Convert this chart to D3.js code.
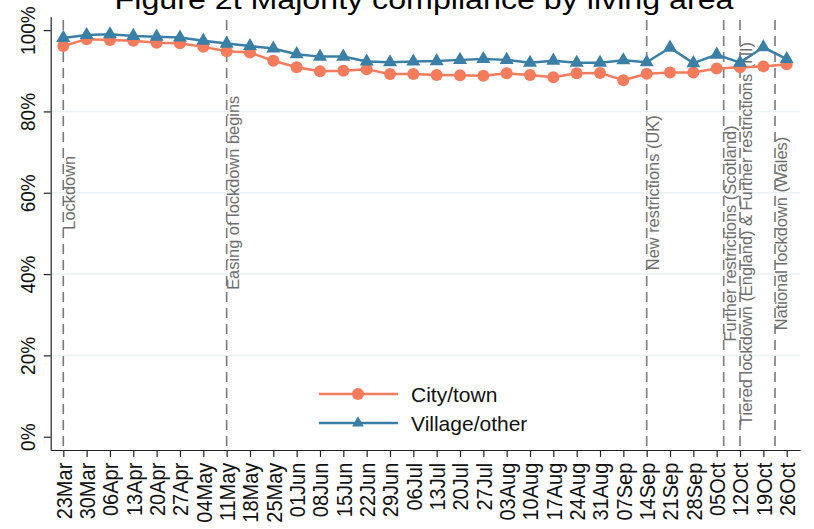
<!DOCTYPE html>
<html>
<head>
<meta charset="utf-8">
<script src="https://cdn.jsdelivr.net/npm/d3@7"></script>
<style>
  body { margin: 0; background: #fff; }
  svg { display: block; font-family: Arial, "Liberation Sans", sans-serif; }
</style>
</head>
<body>
<svg width="814" height="529"></svg>
<script>
// weekly survey dates
const weeks = ['23Mar','30Mar','06Apr','13Apr','20Apr','27Apr','04May','11May','18May','25May',
  '01Jun','08Jun','15Jun','22Jun','29Jun','06Jul','13Jul','20Jul','27Jul','03Aug','10Aug',
  '17Aug','24Aug','31Aug','07Sep','14Sep','21Sep','28Sep','05Oct','12Oct','19Oct','26Oct'];

const cityTown = [96.1, 97.8, 97.6, 97.4, 96.9, 96.8, 95.9, 94.8, 94.5, 92.5, 90.9, 89.9, 90.0, 90.4,
  89.2, 89.2, 89.0, 88.9, 88.8, 89.4, 89.0, 88.4, 89.4, 89.5, 87.7, 89.3, 89.6, 89.6, 90.6, 90.9, 91.1, 91.6];

const villageOther = [98.1, 98.8, 99.0, 98.6, 98.4, 98.2, 97.4, 96.7, 96.1, 95.5, 94.1, 93.5, 93.5, 92.3,
  92.1, 92.3, 92.4, 92.7, 92.9, 92.7, 92.0, 92.5, 92.0, 92.0, 92.6, 92.1, 95.7, 91.9, 94.0, 92.0, 95.8, 92.9];

const yTicks = [0, 20, 40, 60, 80, 100];

// policy events: week position (index), label, label centre (%)
const eventPos = [0, 7, 25, 28.3, 29, 30.5];
const eventText = ['Lockdown', 'Easing of lockdown begins', 'New restrictions (UK)',
  'Further restrictions (Scotland)', 'Tiered lockdown (England) & Further restrictions (NI)',
  'National lockdown (Wales)'];
const eventLabelY = [60, 60, 60, 50, 50, 50];

const orange = '#f47b5c';
const blue = '#3a7fa5';

const svg = d3.select('svg');

const x = d3.scaleLinear().domain([-0.54, 31.57]).range([50.7, 800]);
const y = d3.scaleLinear().domain([0, 100]).range([436.7, 30.2]);
const yAxisScale = d3.scaleLinear().domain([-3.27, 103.3]).range([450, 16.7]);

// title (partly cut off at the top, as in the source figure)
svg.append('text')
  .attr('transform', 'translate(424, 9) scale(1.15, 1)')
  .attr('text-anchor', 'middle')
  .attr('font-size', 28)
  .attr('fill', '#000')
  .text('Figure 2t Majority compliance by living area');

// gridlines
svg.append('g')
  .selectAll('line')
  .data(yTicks.filter(d => d > 0 && d < 100))
  .join('line')
  .attr('x1', 51).attr('x2', 800)
  .attr('y1', d => y(d)).attr('y2', d => y(d))
  .attr('stroke', '#eaf2f3')
  .attr('stroke-width', 1.5);

// y axis
const yAxis = svg.append('g')
  .attr('transform', 'translate(50.7, 0)')
  .call(d3.axisLeft(yAxisScale).tickValues(yTicks).tickSize(7).tickSizeOuter(0)
    .tickFormat(d => d + '%'));
yAxis.select('.domain').attr('stroke', '#222').attr('stroke-width', 1.2);
yAxis.selectAll('.tick line').attr('stroke', '#222').attr('stroke-width', 1.2);
yAxis.selectAll('.tick text')
  .attr('x', 0).attr('y', -14.5).attr('dy', null)
  .attr('text-anchor', 'middle')
  .attr('transform', 'rotate(-90) scale(1, 1.05)')
  .attr('font-size', 19)
  .attr('fill', '#111');

// x axis
const xAxis = svg.append('g')
  .attr('transform', 'translate(0, 450)')
  .call(d3.axisBottom(x).tickValues(d3.range(weeks.length)).tickSize(7).tickSizeOuter(0)
    .tickFormat(i => weeks[i]));
xAxis.select('.domain').attr('stroke', '#222').attr('stroke-width', 1.2);
xAxis.selectAll('.tick line').attr('stroke', '#222').attr('stroke-width', 1.2);
xAxis.selectAll('.tick text')
  .attr('x', -12.7).attr('y', 0).attr('dy', '0.36em')
  .attr('text-anchor', 'end')
  .attr('transform', 'rotate(-90) scale(1, 1.1)')
  .attr('font-size', 20)
  .attr('fill', '#111');

// event lines + labels
const events = svg.append('g')
  .selectAll('g')
  .data(eventPos)
  .join('g');

events.append('line')
  .attr('x1', d => x(d)).attr('x2', d => x(d))
  .attr('y1', 20).attr('y2', 450)
  .attr('stroke', '#7a7a7a')
  .attr('stroke-width', 1.6)
  .attr('stroke-dasharray', '10,6');

events.append('text')
  .attr('transform', (d, i) => `translate(${x(d) + 12}, ${y(eventLabelY[i])}) rotate(-90)`)
  .attr('text-anchor', 'middle')
  .attr('font-size', 16.4)
  .attr('fill', '#6e6e6e')
  .text((d, i) => eventText[i]);

// series
const line = d3.line().x((d, i) => x(i)).y(d => y(d));

svg.append('path')
  .datum(cityTown)
  .attr('d', line)
  .attr('fill', 'none')
  .attr('stroke', orange)
  .attr('stroke-width', 2.5);

svg.append('g')
  .selectAll('circle')
  .data(cityTown)
  .join('circle')
  .attr('cx', (d, i) => x(i))
  .attr('cy', d => y(d))
  .attr('r', 6)
  .attr('fill', orange);

svg.append('path')
  .datum(villageOther)
  .attr('d', line)
  .attr('fill', 'none')
  .attr('stroke', blue)
  .attr('stroke-width', 2.5);

const tri = d3.symbol().type(d3.symbolTriangle).size(85);
svg.append('g')
  .selectAll('path')
  .data(villageOther)
  .join('path')
  .attr('d', tri)
  .attr('transform', (d, i) => `translate(${x(i)}, ${y(d)})`)
  .attr('fill', blue);

// legend
const legend = svg.append('g');
const legendItems = [
  { name: 'City/town', color: orange, marker: 'circle', ly: 394 },
  { name: 'Village/other', color: blue, marker: 'triangle', ly: 423 }
];
legendItems.forEach(item => {
  legend.append('line')
    .attr('x1', 319).attr('x2', 398)
    .attr('y1', item.ly).attr('y2', item.ly)
    .attr('stroke', item.color)
    .attr('stroke-width', 2.5);
  if (item.marker === 'circle') {
    legend.append('circle')
      .attr('cx', 358).attr('cy', item.ly).attr('r', 6)
      .attr('fill', item.color);
  } else {
    legend.append('path')
      .attr('d', d3.symbol().type(d3.symbolTriangle).size(60))
      .attr('transform', `translate(358, ${item.ly})`)
      .attr('fill', item.color);
  }
  legend.append('text')
    .attr('x', 411).attr('y', item.ly + 7.5)
    .attr('font-size', 21)
    .attr('fill', '#111')
    .text(item.name);
});
</script>
</body>
</html>
